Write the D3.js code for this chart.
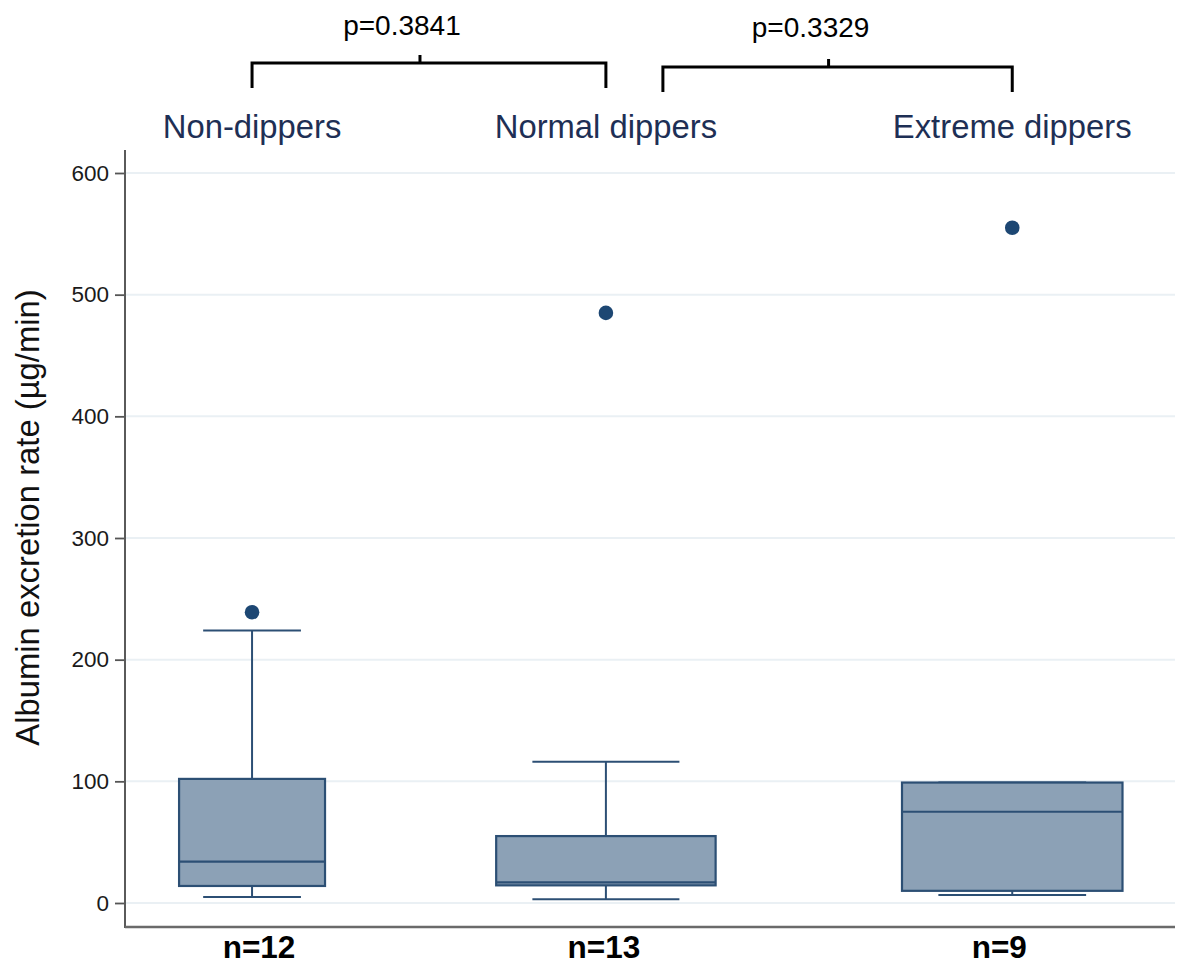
<!DOCTYPE html>
<html>
<head>
<meta charset="utf-8">
<script src="https://cdn.jsdelivr.net/npm/d3@7"></script>
<style>
  html, body { margin: 0; padding: 0; background: #fff; }
  svg { display: block; font-family: "Liberation Sans", Arial, sans-serif; }
</style>
</head>
<body>
<svg id="chart" width="1189" height="968"></svg>
<script>
// ---- Data ----
const categories = ["Non-dippers", "Normal dippers", "Extreme dippers"];
const lowerWhisker = [5, 3, 6.5];
const q1 = [14, 14.5, 10];
const median = [34, 17, 75];
const q3 = [102, 55, 99];
const upperWhisker = [224, 116, 99];
const outliers = [[239], [485], [555]];
const nLabels = ["n=12", "n=13", "n=9"];
const pValues = ["p=0.3841", "p=0.3329"];
const yTicks = [0, 100, 200, 300, 400, 500, 600];
const yTitle = "Albumin excretion rate (\u00b5g/min)";

// ---- Layout ----
const W = 1189, H = 968;
const plotLeft = 125, plotRight = 1175;
const groupPos = [0.121, 0.458, 0.845];    // relative centres in plot width
const boxWidthFrac = [0.139, 0.209, 0.21]; // relative box widths
const capFrac = 0.67;
const nLabelShift = [7, -2, -13];

const svg = d3.select("#chart");

const x = d3.scaleLinear().domain([0, 1]).range([plotLeft, plotRight]);
const y = d3.scaleLinear().domain([0, 600]).range([903, 173]);
const yMin = -19.7, yMax = 618.9;

const boxFill = "#8ca1b6", boxStroke = "#2c4f74", dotColor = "#1d4773";

// gridlines
svg.append("g").selectAll("line").data(yTicks).join("line")
  .attr("x1", plotLeft + 1).attr("x2", plotRight)
  .attr("y1", d => y(d)).attr("y2", d => y(d))
  .attr("stroke", "#eaf0f4").attr("stroke-width", 2);

// y axis
const yAxis = d3.axisLeft(y).tickValues(yTicks).tickSize(10).tickPadding(6).tickSizeOuter(0);
const gy = svg.append("g").attr("transform", `translate(${plotLeft},0)`).call(yAxis);
gy.select(".domain").remove();
gy.selectAll(".tick line").attr("stroke", "#555").attr("stroke-width", 1.8);
gy.selectAll(".tick text").attr("font-size", 22.5).attr("fill", "#1a1a1a")
  .attr("font-family", "'Liberation Sans', Arial, sans-serif");

// axis lines
svg.append("line").attr("x1", plotLeft).attr("x2", plotLeft)
  .attr("y1", y(yMax)).attr("y2", y(yMin) + 1).attr("stroke", "#5a5a5a").attr("stroke-width", 2);
svg.append("line").attr("x1", plotLeft).attr("x2", plotRight)
  .attr("y1", y(yMin)).attr("y2", y(yMin)).attr("stroke", "#6a6a6a").attr("stroke-width", 2.4);

// y title
svg.append("text")
  .attr("transform", `translate(39,${(y(yMin) + y(yMax)) / 2 - 21}) rotate(-90)`)
  .attr("text-anchor", "middle").attr("font-size", 32.8).attr("fill", "#111")
  .text(yTitle);

// boxes
const groups = categories.map((c, i) => ({
  c, i, cx: x(groupPos[i]), bw: x(boxWidthFrac[i]) - x(0),
  lw: lowerWhisker[i], q1: q1[i], med: median[i], q3: q3[i], uw: upperWhisker[i], out: outliers[i]
}));

const g = svg.append("g").selectAll("g").data(groups).join("g");

// whisker stems
g.append("line").attr("x1", d => d.cx).attr("x2", d => d.cx)
  .attr("y1", d => y(d.q3)).attr("y2", d => y(d.uw))
  .attr("stroke", boxStroke).attr("stroke-width", 2);
g.append("line").attr("x1", d => d.cx).attr("x2", d => d.cx)
  .attr("y1", d => y(d.q1)).attr("y2", d => y(d.lw))
  .attr("stroke", boxStroke).attr("stroke-width", 2);
// caps
g.append("line").attr("x1", d => d.cx - d.bw * capFrac / 2).attr("x2", d => d.cx + d.bw * capFrac / 2)
  .attr("y1", d => y(d.uw)).attr("y2", d => y(d.uw))
  .attr("stroke", boxStroke).attr("stroke-width", 2);
g.append("line").attr("x1", d => d.cx - d.bw * capFrac / 2).attr("x2", d => d.cx + d.bw * capFrac / 2)
  .attr("y1", d => y(d.lw)).attr("y2", d => y(d.lw))
  .attr("stroke", boxStroke).attr("stroke-width", 2);
// box
g.append("rect").attr("x", d => d.cx - d.bw / 2).attr("width", d => d.bw)
  .attr("y", d => y(d.q3)).attr("height", d => y(d.q1) - y(d.q3))
  .attr("fill", boxFill).attr("stroke", boxStroke).attr("stroke-width", 2.2);
// median
g.append("line").attr("x1", d => d.cx - d.bw / 2).attr("x2", d => d.cx + d.bw / 2)
  .attr("y1", d => y(d.med)).attr("y2", d => y(d.med))
  .attr("stroke", boxStroke).attr("stroke-width", 2.2);
// outliers
g.selectAll("circle").data(d => d.out.map(v => ({ v, cx: d.cx }))).join("circle")
  .attr("cx", d => d.cx).attr("cy", d => y(d.v)).attr("r", 7.3).attr("fill", dotColor);

// category labels
svg.append("g").selectAll("text").data(groups).join("text")
  .attr("x", d => d.cx).attr("y", 138).attr("text-anchor", "middle")
  .attr("font-size", 32.8).attr("fill", "#1e2f55").text(d => d.c);

// n labels
svg.append("g").selectAll("text").data(groups).join("text")
  .attr("x", (d, i) => d.cx + nLabelShift[i]).attr("y", 958).attr("text-anchor", "middle")
  .attr("font-size", 31.5).attr("font-weight", "bold").attr("fill", "#000").text((d, i) => nLabels[i]);

// brackets
const brackets = [
  { x1: groups[0].cx, x2: groups[1].cx, yTop: 63, yBot: 88, p: pValues[0], ty: 35 },
  { x1: groups[1].cx + 57, x2: groups[2].cx, yTop: 67, yBot: 92, p: pValues[1], ty: 37 }
];
const bg = svg.append("g").selectAll("g").data(brackets).join("g");
bg.append("path")
  .attr("d", d => `M${d.x1},${d.yBot}V${d.yTop}H${d.x2}V${d.yBot}`)
  .attr("fill", "none").attr("stroke", "#000").attr("stroke-width", 3);
bg.append("line")
  .attr("x1", d => (d.x1 + d.x2) / 2 - 9).attr("x2", d => (d.x1 + d.x2) / 2 - 9)
  .attr("y1", d => d.yTop - 8).attr("y2", d => d.yTop)
  .attr("stroke", "#000").attr("stroke-width", 3);
bg.append("text")
  .attr("x", d => (d.x1 + d.x2) / 2 - 27).attr("y", d => d.ty)
  .attr("text-anchor", "middle").attr("font-size", 28).attr("fill", "#000").text(d => d.p);
</script>
</body>
</html>
